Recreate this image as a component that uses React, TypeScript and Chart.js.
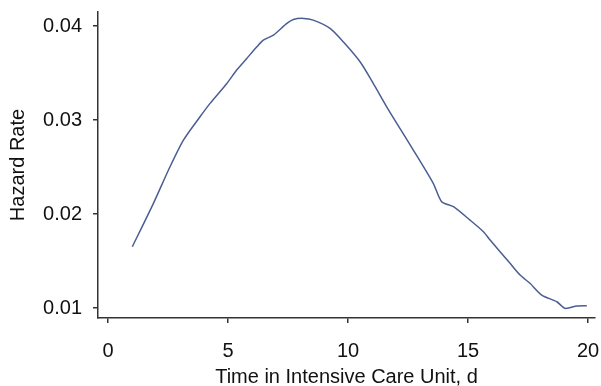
import React, { useEffect, useRef } from "react";
import { Chart, registerables } from "chart.js";

Chart.register(...registerables);

const timeDays = [1.01, 1.89, 2.58, 3.14, 3.83, 4.25, 4.95, 5.36, 5.78, 6.2, 6.47, 6.89, 7.45, 7.72, 8.14, 8.55, 9.25, 9.8, 10.5, 11.05, 11.61, 12.03, 12.72, 13.55, 13.9, 14.39, 15.08, 15.64, 15.92, 16.75, 17.17, 17.58, 18.07, 18.7, 19.04, 19.53, 19.95];
const hazardRate = [0.01652, 0.02114, 0.02503, 0.02787, 0.03035, 0.03178, 0.0339, 0.03532, 0.03656, 0.0378, 0.03851, 0.03904, 0.04029, 0.04071, 0.04082, 0.04064, 0.03976, 0.03833, 0.0362, 0.0339, 0.03141, 0.02965, 0.02681, 0.02327, 0.02131, 0.02078, 0.01936, 0.01812, 0.01723, 0.01476, 0.01351, 0.01263, 0.01138, 0.01067, 0.00997, 0.01021, 0.01024];
const xTicks = [0, 5, 10, 15, 20];
const yTicks = [0.01, 0.02, 0.03, 0.04];

const FONT = "'Liberation Sans', Arial, Helvetica, sans-serif";

export default function App() {
  const ref = useRef<HTMLCanvasElement | null>(null);
  useEffect(() => {
    if (!ref.current) return;
    const chart = new Chart(ref.current, {
      type: "line",
      data: {
        datasets: [
          {
            data: timeDays.map((t, i) => ({ x: t, y: hazardRate[i] })),
            borderColor: "#4a5e94",
            borderWidth: 1.5,
            pointRadius: 0,
            tension: 0.25,
            fill: false,
          },
        ],
      },
      options: {
        responsive: false,
        animation: false,
        layout: { padding: { top: 12, right: 6, left: 0, bottom: 0 } },
        plugins: { legend: { display: false }, tooltip: { enabled: false } },
        scales: {
          x: {
            type: "linear",
            min: -0.42,
            max: 20.29,
            afterBuildTicks: (s: any) => {
              s.ticks = xTicks.map((v) => ({ value: v }));
            },
            afterFit: (s: any) => {
              s.height = 68;
              s.paddingLeft = 0;
              s.paddingRight = 0;
            },
            grid: { drawOnChartArea: false, drawTicks: true, tickLength: 5, color: "#333", lineWidth: 1.5 },
            border: { display: true, color: "#333", width: 1.5 },
            ticks: { color: "#111", font: { family: FONT, size: 20 }, padding: 16, maxRotation: 0, callback: (v: any) => String(v) },
            title: {
              display: true,
              text: "Time in Intensive Care Unit, d",
              color: "#111",
              font: { family: FONT, size: 20 },
              padding: { top: 0, bottom: -3 },
            },
          },
          y: {
            type: "linear",
            min: 0.00894,
            max: 0.0415,
            afterBuildTicks: (s: any) => {
              s.ticks = yTicks.map((v) => ({ value: v }));
            },
            afterFit: (s: any) => {
              s.width = 98;
              s.paddingTop = 0;
              s.paddingBottom = 0;
            },
            grid: { drawOnChartArea: false, drawTicks: true, tickLength: 5, color: "#333", lineWidth: 1.5 },
            border: { display: true, color: "#333", width: 1.5 },
            ticks: { color: "#111", font: { family: FONT, size: 20 }, padding: 11, callback: (v: any) => Number(v).toFixed(2) },
            title: {
              display: true,
              text: "Hazard Rate",
              color: "#111",
              font: { family: FONT, size: 20 },
              padding: { top: 6, bottom: 0 },
            },
          },
        },
      },
    });
    return () => chart.destroy();
  }, []);
  return (
    <div style={{ position: "absolute", left: 0, top: 0, width: 601, height: 386, background: "#fff" }}>
      <canvas ref={ref} width={601} height={386} style={{ width: 601, height: 386, display: "block" }} />
    </div>
  );
}
